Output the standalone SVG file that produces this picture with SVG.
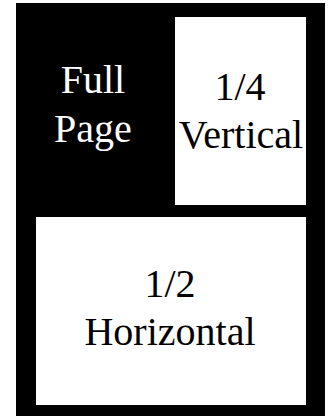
<svg xmlns="http://www.w3.org/2000/svg" width="328" height="416" viewBox="0 0 328 416">
<style>
text { font-family: "Liberation Serif", "DejaVu Serif", serif; font-size: 40px; text-anchor: middle; }
.w { fill: #ffffff; }
.k { fill: #000000; }
</style>
<rect width="328" height="416" fill="#ffffff"/>
<g id="full-page">
<rect x="16" y="3" width="309" height="413" fill="#000000"/>
<text class="w" x="93" y="93">Full</text>
<text class="w" x="93" y="142">Page</text>
</g>
<g id="quarter-vertical">
<rect x="175" y="17" width="131" height="188" fill="#ffffff"/>
<text class="k" x="240" y="100">1/4</text>
<text class="k" x="241" y="148">Vertical</text>
</g>
<g id="half-horizontal">
<rect x="36" y="217" width="270" height="188" fill="#ffffff"/>
<text class="k" x="170" y="297">1/2</text>
<text class="k" x="170" y="345">Horizontal</text>
</g>
<g id="connectors"/>
</svg>
